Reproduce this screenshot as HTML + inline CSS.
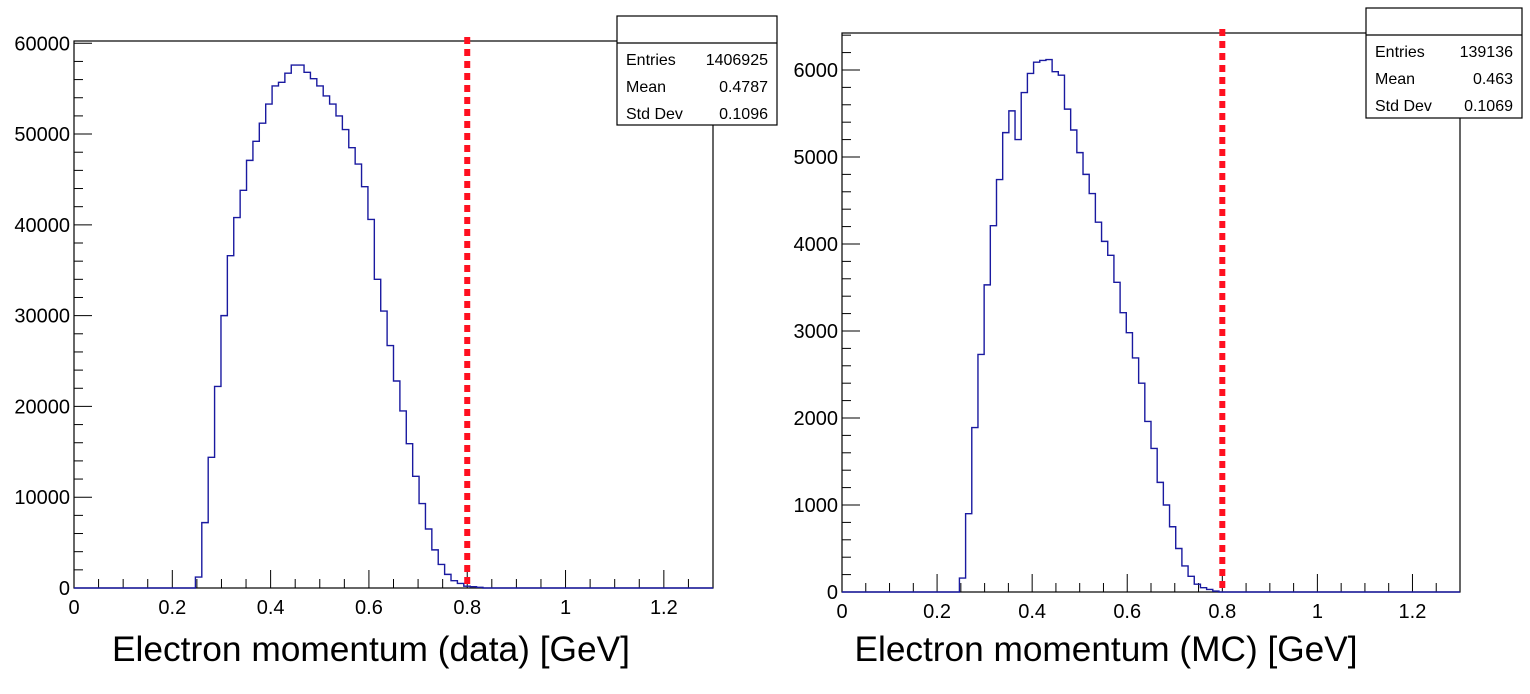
<!DOCTYPE html>
<html><head><meta charset="utf-8">
<style>
html,body{margin:0;padding:0;background:#fff;}
svg{display:block;font-family:"Liberation Sans",Arial,sans-serif;}
</style></head>
<body>
<svg id="chart" width="1530" height="694" xmlns="http://www.w3.org/2000/svg"></svg>
<script>
// ---- data ----
const binCount = 100;
const xMin = 0, xMax = 1.3;
const firstBin = 19;
const dataValues = [1200,7200,14400,22200,30000,36600,40800,43800,47100,49200,51200,53300,55300,55700,56700,57600,57600,56800,56100,55300,54200,53300,52000,50500,48500,46700,44200,40600,34000,30500,26700,22800,19500,15900,12300,9300,6500,4200,2600,1500,800,500,200,150,80];
const mcValues = [160,900,1890,2730,3530,4210,4740,5280,5530,5200,5740,5960,6090,6110,6120,5980,5940,5550,5310,5050,4800,4580,4250,4030,3870,3560,3210,2980,2690,2400,1960,1650,1260,1000,750,500,300,180,90,50,30,10];
const xTickLabels = ["0","0.2","0.4","0.6","0.8","1","1.2"];
const xTickValues = [0,0.2,0.4,0.6,0.8,1.0,1.2];
const dataYTicks = [0,10000,20000,30000,40000,50000,60000];
const mcYTicks = [0,1000,2000,3000,4000,5000,6000];
const cutValue = 0.8;
const dataStats = [["Entries","1406925"],["Mean","0.4787"],["Std Dev","0.1096"]];
const mcStats = [["Entries","139136"],["Mean","0.463"],["Std Dev","0.1069"]];

const NS = "http://www.w3.org/2000/svg";
const svg = document.getElementById('chart');
function mk(tag, attrs, parent){
  const e = document.createElementNS(NS, tag);
  for (const k in attrs) e.setAttribute(k, attrs[k]);
  (parent||svg).appendChild(e);
  return e;
}

function drawPanel(cfg){
  const g = mk('g', {});
  
  
  const L=cfg.left, R=cfg.right, T=cfg.top, B=cfg.bottom;
  const xs = v => L + (v - xMin) / (xMax - xMin) * (R - L);
  const ys = v => B - v / cfg.yMax * (B - T);
  const fr = mk('rect', {x:L, y:T, width:R-L, height:B-T, fill:'none', stroke:'#000', 'stroke-width':1.2}, g);
  
  
  for (let v = 0; v <= 1.3001; v += 0.05) {
    const major = Math.abs(v/0.2 - Math.round(v/0.2)) < 1e-6;
    const len = major ? 18 : 9;
    mk('line', {x1:xs(v), x2:xs(v), y1:B, y2:B-len, stroke:'#000', 'stroke-width':1}, g);
  }
  xTickLabels.forEach((lab, i) => {
    const t = mk('text', {x:xs(xTickValues[i]), y:B+26, 'font-size':20, 'text-anchor':'middle', fill:'#000'}, g);
    t.textContent = lab;
    
    
  });
  const minor = cfg.yStep / 5;
  for (let v = 0; v <= cfg.yMax + 1e-6; v += minor) {
    const major = Math.abs(v/cfg.yStep - Math.round(v/cfg.yStep)) < 1e-6;
    mk('line', {x1:L, x2:L+(major?18:9), y1:ys(v), y2:ys(v), stroke:'#000', 'stroke-width':1}, g);
  }
  cfg.yTicks.forEach(v => {
    const t = mk('text', {x:L-4, y:ys(v)+7, 'font-size':20, 'text-anchor':'end', fill:'#000'}, g);
    t.textContent = String(v);
    
    
  });
  const bw = (xMax - xMin) / binCount;
  let d = 'M' + xs(xMin) + ',' + ys(0);
  for (let i = 0; i < binCount; i++) {
    const idx = i - firstBin;
    const v = (idx >= 0 && idx < cfg.values.length) ? cfg.values[idx] : 0;
    d += ' L' + xs(xMin + i*bw) + ',' + ys(v) + ' L' + xs(xMin + (i+1)*bw) + ',' + ys(v);
  }
  const h = mk('path', {d:d, fill:'none', stroke:'#1a1aa0', 'stroke-width':1.4}, g);
  
  
  const c = mk('line', {x1:xs(cutValue), x2:xs(cutValue), y1:T-4, y2:B, stroke:'#ff1020', 'stroke-width':6, 'stroke-dasharray':'7,5'}, g);
  
  
  const sb = mk('g', {}, g);
  
  
  mk('rect', {x:cfg.box[0], y:cfg.box[1], width:cfg.box[2], height:cfg.box[3], fill:'#fff', stroke:'#000', 'stroke-width':1.2}, sb);
  mk('line', {x1:cfg.box[0], x2:cfg.box[0]+cfg.box[2], y1:cfg.box[1]+27, y2:cfg.box[1]+27, stroke:'#000', 'stroke-width':1.2}, sb);
  cfg.stats.forEach((row, i) => {
    const y = cfg.box[1] + 49 + i*27;
    const a = mk('text', {x:cfg.box[0]+9, y:y, 'font-size':16, fill:'#000'}, sb);
    a.textContent = row[0];
    
    
    const b = mk('text', {x:cfg.box[0]+cfg.box[2]-9, y:y, 'font-size':16, 'text-anchor':'end', fill:'#000'}, sb);
    b.textContent = row[1];
    
    
  });
  const tt = mk('text', {x:cfg.titleX, y:661, 'font-size':35, 'text-anchor':'middle', fill:'#000', textLength:cfg.titleW, lengthAdjust:'spacingAndGlyphs'}, g);
  tt.textContent = cfg.title;
  
  
}

drawPanel({name:'data-panel', left:74, right:713, top:41, bottom:588, yMax:60250, yStep:10000, yTicks:dataYTicks, values:dataValues, box:[617,16,160,109], stats:dataStats, title:'Electron momentum (data) [GeV]', titleX:371, titleW:518});
drawPanel({name:'mc-panel', left:842, right:1460, top:33, bottom:592, yMax:6425, yStep:1000, yTicks:mcYTicks, values:mcValues, box:[1366,8,156,110], stats:mcStats, title:'Electron momentum (MC) [GeV]', titleX:1106, titleW:503});
</script>
</body></html>
